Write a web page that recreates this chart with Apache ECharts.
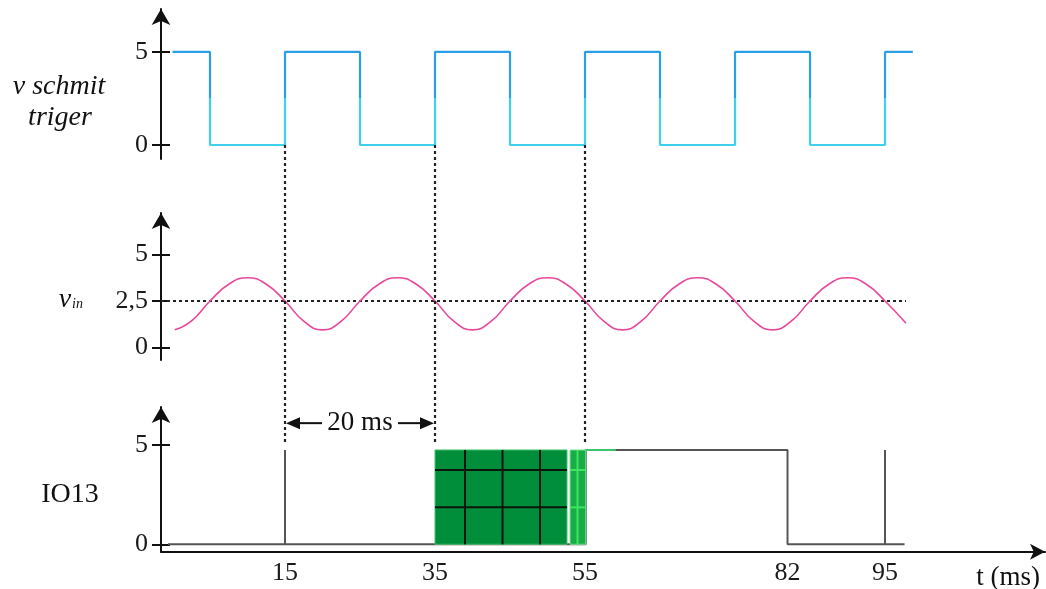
<!DOCTYPE html>
<html><head><meta charset="utf-8">
<script src="https://cdn.jsdelivr.net/npm/echarts@6/dist/echarts.min.js"></script>
<style>html,body{margin:0;padding:0;background:#fff}#c{width:1046px;height:589px}</style>
</head><body><div id="c"></div>
<script>
// ---- data ----
const squareT = [0, 5, 15, 25, 35, 45, 55, 65, 75, 85, 95, 98.7];
const squareV = [5, 0, 5, 0, 5, 0, 5, 0, 5, 0, 5, 5];

const sineT = [0.3, 2.5, 5, 7.5, 10, 12.5, 15, 17.5, 20, 22.5, 25, 27.5, 30, 32.5, 35, 37.5, 40, 42.5, 45, 47.5,
               50, 52.5, 55, 57.5, 60, 62.5, 65, 67.5, 70, 72.5, 75, 77.5, 80, 82.5, 85, 87.5, 90, 92.5, 95, 97.8];
const sineV = [0.95, 1.42, 2.5, 3.4, 3.75, 3.4, 2.5, 1.42, 0.95, 1.42, 2.5, 3.4, 3.75, 3.4, 2.5, 1.42, 0.95, 1.42, 2.5, 3.4,
               3.75, 3.4, 2.5, 1.42, 0.95, 1.42, 2.5, 3.4, 3.75, 3.4, 2.5, 1.42, 0.95, 1.42, 2.5, 3.4, 3.75, 3.4, 2.5, 1.3];
const refLevel = 2.5;
const refEnd = 97.8;

const ioT = [-0.6, 15, 15, 15, 55.1, 55.1, 82, 82, 95, 95, 95, 97.6];
const ioV = [0, 0, 4.75, 0, 0, 4.75, 4.75, 0, 0, 4.75, 0, 0];
const greenEdgeT = [55.1, 59.1];
const greenEdgeV = [4.75, 4.75];

const darkBlock = [35, 52.6, 4.75];
const darkCols = [39, 44, 49];
const lightBlock = [53, 55.1, 4.75];
const lightCols = [54];
const blockRows = [1.86, 3.74];

const xTicks = [15, 35, 55, 82, 95];
const yTicksTop = [0, 5];
const yTicksMid = [0, 2.5, 5];
const yTicksBot = [0, 5];
const markTimes = [15, 35, 55];
const spanFrom = 15, spanTo = 35, spanLevel = 6.1;

// ---- chart ----
const zip = (a, b) => a.map((v, i) => [v, b[i]]);
const FONT = '"Liberation Serif", "Times New Roman", serif';
const X0 = -1.533, X1 = 116.33;
const chart = echarts.init(document.getElementById('c'), null, {renderer: 'canvas'});

function yAxisPair(grid, min, max, ticks) {
  return [
    {type: 'value', gridIndex: grid, min, max, position: 'left',
     axisLine: {show: true, onZero: false, symbol: ['none', 'arrow'], symbolSize: [14, 16], lineStyle: {color: '#111', width: 2}},
     axisTick: {show: true, customValues: ticks, length: 9, inside: false, lineStyle: {color: '#111', width: 2}},
     axisLabel: {show: true, customValues: ticks, margin: 13, fontSize: 26, fontFamily: FONT, color: '#1a1a1a',
                 formatter: v => String(v).replace('.', ',')},
     splitLine: {show: false}},
    {type: 'value', gridIndex: grid, min, max, position: 'left',
     axisLine: {show: false, onZero: false},
     axisTick: {show: true, customValues: ticks, length: 9, inside: true, lineStyle: {color: '#111', width: 2}},
     axisLabel: {show: false}, splitLine: {show: false}}
  ];
}

function blockRender(block, cols, fill, lineColor, border) {
  return function (params, api) {
    const p0 = api.coord([block[0], block[2]]);
    const p1 = api.coord([block[1], 0]);
    const children = [{type: 'rect', shape: {x: p0[0], y: p0[1], width: p1[0] - p0[0], height: p1[1] - p0[1]},
                       style: {fill: fill, stroke: border, lineWidth: 1}}];
    cols.forEach(c => {
      const x = api.coord([c, 0])[0];
      children.push({type: 'line', shape: {x1: x, y1: p0[1], x2: x, y2: p1[1]}, style: {stroke: lineColor, lineWidth: 2}});
    });
    blockRows.forEach(r => {
      const y = api.coord([block[0], r])[1];
      children.push({type: 'line', shape: {x1: p0[0], y1: y, x2: p1[0], y2: y}, style: {stroke: lineColor, lineWidth: 2}});
    });
    return {type: 'group', children};
  };
}

const option = {
  animation: false,
  backgroundColor: '#fff',
  grid: [
    {left: 161, right: 1, top: 9, height: 150},
    {left: 161, right: 1, top: 213, height: 147},
    {left: 161, right: 1, top: 407, height: 144.7}
  ],
  xAxis: [
    {type: 'value', gridIndex: 0, min: X0, max: X1, show: false, axisLine: {onZero: false}},
    {type: 'value', gridIndex: 1, min: X0, max: X1, show: false, axisLine: {onZero: false}},
    {type: 'value', gridIndex: 2, min: X0, max: X1, position: 'bottom',
     axisLine: {show: true, onZero: false, symbol: ['none', 'arrow'], symbolSize: [12, 15], lineStyle: {color: '#111', width: 2}},
     axisTick: {show: false},
     axisLabel: {show: true, customValues: xTicks, margin: 8, fontSize: 26, fontFamily: FONT, color: '#1a1a1a'},
     splitLine: {show: false}}
  ],
  yAxis: [].concat(
    yAxisPair(0, -0.753, 7.31, yTicksTop),
    yAxisPair(1, -0.672, 7.23, yTicksMid),
    yAxisPair(2, -0.373, 6.913, yTicksBot)
  ),
  visualMap: [{type: 'piecewise', show: false, seriesIndex: 0, dimension: 1,
               pieces: [{gte: -5, lt: 2.5, color: '#3fd0ec'}, {gte: 2.5, lte: 10, color: '#2a9fe6'}]}],
  series: [
    {type: 'line', xAxisIndex: 0, yAxisIndex: 0, step: 'end', data: zip(squareT, squareV), showSymbol: false,
     lineStyle: {width: 2.2}},
    {type: 'line', xAxisIndex: 1, yAxisIndex: 2, smooth: true, data: zip(sineT, sineV), showSymbol: false,
     lineStyle: {width: 1.6, color: '#e8489c'}, itemStyle: {color: '#e8489c'}, z: 3},
    {type: 'line', xAxisIndex: 1, yAxisIndex: 2, data: [[X0, refLevel], [refEnd, refLevel]], showSymbol: false,
     lineStyle: {width: 2.2, color: '#222', type: [3, 3]}, itemStyle: {color: '#222'}, z: 2},
    {type: 'line', xAxisIndex: 2, yAxisIndex: 4, data: zip(ioT, ioV), showSymbol: false,
     lineStyle: {width: 2, color: '#555'}, itemStyle: {color: '#555'}, z: 2},
    {type: 'line', xAxisIndex: 2, yAxisIndex: 4, data: zip(greenEdgeT, greenEdgeV), showSymbol: false,
     lineStyle: {width: 2, color: '#3ec46a'}, itemStyle: {color: '#3ec46a'}, z: 3},
    {type: 'custom', xAxisIndex: 2, yAxisIndex: 4, data: [darkBlock], z: 4,
     renderItem: blockRender(darkBlock, darkCols, '#018e3b', '#0b160c', '#49c26a')},
    {type: 'custom', xAxisIndex: 2, yAxisIndex: 4, data: [lightBlock], z: 4,
     renderItem: blockRender(lightBlock, lightCols, '#17ac45', '#3fe463', '#7ee596')}
  ]
};
chart.setOption(option);

// overlay: guides and labels placed through the axes' own scales
const top0 = t => chart.convertToPixel({xAxisIndex: 0, yAxisIndex: 0}, [t, 0]);
const bot = (t, v) => chart.convertToPixel({xAxisIndex: 2, yAxisIndex: 4}, [t, v]);
const g = [];
markTimes.forEach(t => {
  const a = top0(t), b = bot(t, 5);
  g.push({type: 'line', shape: {x1: a[0], y1: a[1], x2: b[0], y2: b[1]}, z: 10,
          style: {stroke: '#222', lineWidth: 2.2, lineDash: [3, 3]}});
});
const pa = bot(spanFrom, spanLevel), pb = bot(spanTo, spanLevel);
const mid = (pa[0] + pb[0]) / 2, ay = pa[1];
g.push({type: 'line', shape: {x1: pa[0] + 8, y1: ay, x2: mid - 38, y2: ay}, style: {stroke: '#111', lineWidth: 2}, z: 10});
g.push({type: 'line', shape: {x1: mid + 38, y1: ay, x2: pb[0] - 8, y2: ay}, style: {stroke: '#111', lineWidth: 2}, z: 10});
g.push({type: 'polygon', shape: {points: [[pa[0] + 1, ay], [pa[0] + 15, ay - 6], [pa[0] + 15, ay + 6]]}, style: {fill: '#111'}, z: 10});
g.push({type: 'polygon', shape: {points: [[pb[0] - 1, ay], [pb[0] - 15, ay - 6], [pb[0] - 15, ay + 6]]}, style: {fill: '#111'}, z: 10});
g.push({type: 'text', z: 10, style: {text: '20 ms', x: mid, y: ay, align: 'center', verticalAlign: 'middle',
        font: '27px ' + FONT, fill: '#111'}});
g.push({type: 'text', z: 10, style: {text: 'v schmit', x: 59, y: 87, align: 'center', verticalAlign: 'middle',
        font: 'italic 28px ' + FONT, fill: '#111'}});
g.push({type: 'text', z: 10, style: {text: 'triger', x: 60, y: 118, align: 'center', verticalAlign: 'middle',
        font: 'italic 28px ' + FONT, fill: '#111'}});
g.push({type: 'text', z: 10, style: {text: 'v', x: 65, y: 300, align: 'center', verticalAlign: 'middle',
        font: 'italic 28px ' + FONT, fill: '#111'}});
g.push({type: 'text', z: 10, style: {text: 'in', x: 72, y: 304, align: 'left', verticalAlign: 'middle',
        font: 'italic 14px ' + FONT, fill: '#111'}});
g.push({type: 'text', z: 10, style: {text: 'IO13', x: 70, y: 495, align: 'center', verticalAlign: 'middle',
        font: '28px ' + FONT, fill: '#111'}});
g.push({type: 'text', z: 10, style: {text: 't (ms)', x: 1040, y: 578, align: 'right', verticalAlign: 'middle',
        font: '27px ' + FONT, fill: '#111'}});
chart.setOption({graphic: g});
</script>
</body></html>
